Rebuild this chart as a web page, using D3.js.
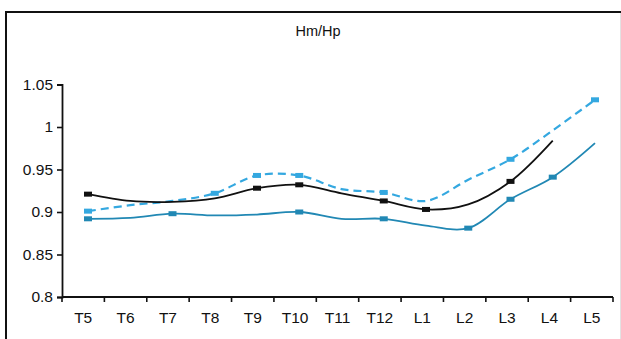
<!DOCTYPE html>
<html>
<head>
<meta charset="utf-8">
<script src="https://cdn.jsdelivr.net/npm/d3@7"></script>
<style>
  html, body { margin: 0; padding: 0; background: #fff; }
  svg { display: block; font-family: "Liberation Sans", Arial, sans-serif; }
</style>
</head>
<body>
<svg id="chart" width="621" height="339"></svg>
<script>
// Vertebral levels along the x axis
const categories = ["T5","T6","T7","T8","T9","T10","T11","T12","L1","L2","L3","L4","L5"];

// Hm/Hp ratio per level for each series
const seriesBlack  = [0.921, 0.913, 0.912, 0.916, 0.928, 0.932, 0.922, 0.913, 0.903, 0.909, 0.936, 0.984, null];
const seriesDashed = [0.901, 0.908, 0.913, 0.922, 0.943, 0.943, 0.927, 0.923, 0.913, 0.938, 0.962, 0.996, 1.032];
const seriesTeal   = [0.892, 0.893, 0.898, 0.896, 0.897, 0.900, 0.892, 0.892, 0.884, 0.881, 0.915, 0.941, 0.981];

// Levels that carry a square marker in each series
const markersBlack  = ["T5","T9","T10","T12","L1","L3"];
const markersDashed = ["T5","T8","T9","T10","T12","L3","L5"];
const markersTeal   = ["T5","T7","T10","T12","L2","L3","L4"];

const yTicks = [0.8, 0.85, 0.9, 0.95, 1, 1.05];
const title = "Hm/Hp";

const svg = d3.select("#chart");

// frame
svg.append("path")
  .attr("d", "M6,345V12H625")
  .attr("fill", "none")
  .attr("stroke", "#111")
  .attr("stroke-width", 2);
svg.append("line")
  .attr("x1", 620.5).attr("x2", 620.5).attr("y1", 13).attr("y2", 339)
  .attr("stroke", "#e2e2e2").attr("stroke-width", 1);

const plot = { left: 62, right: 613, top: 84.5, bottom: 297 };

const xBand = d3.scaleBand().domain(categories).range([plot.left, plot.right]).paddingInner(0).paddingOuter(0);
const xPt = d3.scalePoint().domain(categories).range([plot.left + 26, plot.right - 18]);
const y = d3.scaleLinear().domain([0.8, 1.05]).range([plot.bottom, plot.top]);

// title
svg.append("text")
  .attr("x", 318).attr("y", 36)
  .attr("text-anchor", "middle")
  .attr("font-size", 14.5)
  .attr("fill", "#111")
  .text(title);

// y axis
const yAxis = svg.append("g")
  .attr("transform", `translate(${plot.left},0)`)
  .call(d3.axisLeft(y).tickValues(yTicks).tickSize(5).tickPadding(4)
    .tickFormat(d => String(+d.toFixed(2))));
yAxis.select(".domain").attr("stroke", "#111").attr("stroke-width", 1.8);
yAxis.selectAll(".tick line").attr("stroke", "#111").attr("stroke-width", 1.6);
yAxis.selectAll("text").attr("font-size", 15.5).attr("fill", "#111")
  .attr("font-family", "Liberation Sans, Arial, sans-serif");

// x axis with ticks on band boundaries
const xAxis = svg.append("g")
  .attr("transform", `translate(0,${plot.bottom})`);
xAxis.append("line")
  .attr("x1", plot.left).attr("x2", plot.right)
  .attr("stroke", "#111").attr("stroke-width", 1.8);
const bounds = categories.map(c => xBand(c)).concat([xBand(categories[categories.length - 1]) + xBand.bandwidth()]);
xAxis.selectAll("line.tk").data(bounds).join("line")
  .attr("class", "tk")
  .attr("x1", d => d).attr("x2", d => d)
  .attr("y1", 0).attr("y2", 5)
  .attr("stroke", "#111").attr("stroke-width", 1.6);
xAxis.selectAll("text").data(categories).join("text")
  .attr("x", d => xBand(d) + xBand.bandwidth() / 2)
  .attr("y", 26)
  .attr("text-anchor", "middle")
  .attr("font-size", 15.5)
  .attr("fill", "#111")
  .text(d => d);

function drawSeries(values, markers, color, dash) {
  const pts = categories.map((c, i) => ({ c, v: values[i] })).filter(d => d.v != null);
  const line = d3.line()
    .x(d => xPt(d.c))
    .y(d => y(d.v))
    .curve(d3.curveCatmullRom.alpha(0.5));
  svg.append("path")
    .datum(pts)
    .attr("d", line)
    .attr("fill", "none")
    .attr("stroke", color)
    .attr("stroke-width", dash ? 2.2 : 1.8)
    .attr("stroke-dasharray", dash ? "8,5" : null);
  svg.append("g").selectAll("rect")
    .data(pts.filter(d => markers.includes(d.c)))
    .join("rect")
    .attr("x", d => xPt(d.c) - 4)
    .attr("y", d => y(d.v) - 2.5)
    .attr("width", 8)
    .attr("height", 5)
    .attr("fill", color);
}

drawSeries(seriesTeal, markersTeal, "#2188b4", false);
drawSeries(seriesDashed, markersDashed, "#34a8e0", true);
drawSeries(seriesBlack, markersBlack, "#111", false);
</script>
</body>
</html>
